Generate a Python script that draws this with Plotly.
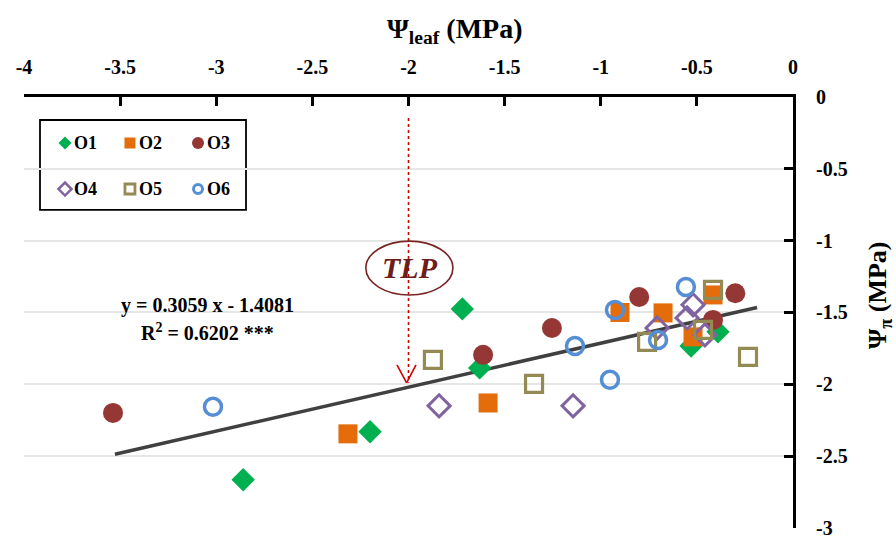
import plotly.graph_objects as go

# Leaf water potential (x) vs osmotic potential (y), MPa, per genotype
o1_x = [-2.86, -2.20, -1.72, -1.63, -0.53, -0.39]
o1_y = [-2.665, -2.33, -1.475, -1.886, -1.733, -1.635]
o2_x = [-2.315, -1.586, -0.90, -0.676, -0.52, -0.416]
o2_y = [-2.345, -2.13, -1.50, -1.503, -1.67, -1.378]
o3_x = [-3.537, -1.612, -1.254, -0.80, -0.416, -0.30]
o3_y = [-2.199, -1.795, -1.608, -1.392, -1.552, -1.366]
o4_x = [-1.841, -1.144, -0.707, -0.52, -0.551, -0.458]
o4_y = [-2.15, -2.15, -1.608, -1.447, -1.538, -1.656]
o5_x = [-1.873, -1.347, -0.759, -0.416, -0.468, -0.234]
o5_y = [-1.83, -1.997, -1.705, -1.343, -1.621, -1.809]
o6_x = [-3.017, -1.134, -0.926, -0.952, -0.702, -0.557]
o6_y = [-2.157, -1.733, -1.482, -1.969, -1.691, -1.322]

# Linear fit y = a x + b over the observed x span
slope = 0.3059
intercept = -1.4081
fit_x = [-3.527, -0.187]
fit_y = [slope * v + intercept for v in fit_x]

tlp_x = -2.0

x_ticks = [-4, -3.5, -3, -2.5, -2, -1.5, -1, -0.5, 0]
x_ticktext = ["-4", "-3.5", "-3", "-2.5", "-2", "-1.5", "-1", "-0.5", "0"]
y_ticks = [0, -0.5, -1, -1.5, -2, -2.5, -3]
y_ticktext = ["0", "-0.5", "-1", "-1.5", "-2", "-2.5", "-3"]

FONT = "Liberation Serif"

fig = go.Figure()

fig.add_trace(go.Scatter(x=fit_x, y=fit_y, mode="lines",
                         line=dict(color="#404040", width=3.5), showlegend=False))

series = [
    ("O1", o1_x, o1_y, "diamond", 18, "#00b050", 0, 10, 0),
    ("O2", o2_x, o2_y, "square", 19, "#e46c0a", 0, 11, 0),
    ("O3", o3_x, o3_y, "circle", 20, "#953735", 0, 12, 0),
    ("O4", o4_x, o4_y, "diamond-open", 17, "#8064a2", 3, 10, 2.5),
    ("O5", o5_x, o5_y, "square-open", 17, "#948a54", 3.2, 10, 2.8),
    ("O6", o6_x, o6_y, "circle-open", 17, "#558ed5", 3.5, 9, 3),
]
for name, xs, ys, sym, size, col, lw, _, _ in series:
    fig.add_trace(go.Scatter(
        x=xs, y=ys, mode="markers", name=name, showlegend=False,
        marker=dict(symbol=sym, size=size, color=col,
                    line=dict(color=col, width=lw)),
    ))

# Legend key: 3 columns x 2 rows, placed in paper units on an overlay axis pair
key_cols = [0.0533, 0.1378, 0.2263]
key_rows = [0.8933, 0.7865]
annotations = []
for i, (name, _, _, sym, _, col, _, ksize, klw) in enumerate(series):
    kx = key_cols[i % 3]
    ky = key_rows[i // 3]
    fig.add_trace(go.Scatter(
        x=[kx], y=[ky], xaxis="x2", yaxis="y2", mode="markers", showlegend=False,
        hoverinfo="skip",
        marker=dict(symbol=sym, size=ksize, color=col, line=dict(color=col, width=klw)),
    ))
    annotations.append(dict(
        x=kx + 0.009, y=ky, xref="paper", yref="paper", xanchor="left", yanchor="middle",
        text=name, showarrow=False,
        font=dict(family=FONT, size=18, color="black", weight="bold"),
    ))

shapes = [
    # TLP marker: dotted drop line with open arrowhead
    dict(type="line", xref="x", yref="y", x0=tlp_x, x1=tlp_x, y0=-0.146, y1=-1.99,
         line=dict(color="#d00000", width=1.6, dash="dot"), layer="above"),
    dict(type="line", xref="x", yref="y", x0=-2.060, x1=tlp_x - 0.01, y0=-1.865, y1=-1.99,
         line=dict(color="#d00000", width=1.6), layer="above"),
    dict(type="line", xref="x", yref="y", x0=-1.961, x1=tlp_x - 0.01, y0=-1.865, y1=-1.99,
         line=dict(color="#d00000", width=1.6), layer="above"),
    dict(type="circle", xref="x", yref="y", x0=-2.222, x1=-1.769, y0=-1.378, y1=-1.003,
         line=dict(color="#7a2424", width=1.6), layer="above"),
    # legend frame
    dict(type="rect", xref="paper", yref="paper", x0=0.0208, x1=0.2887, y0=0.738, y1=0.9466,
         line=dict(color="black", width=1.8), fillcolor="white", layer="between"),
]

annotations += [
    dict(x=-1.99, y=-1.19, xref="x", yref="y", text="<i>TLP</i>", showarrow=False,
         font=dict(family=FONT, size=30, color="#6e1c1c", weight="bold")),
    dict(x=-3.043, y=-1.454, xref="x", yref="y", text="y = 0.3059 x - 1.4081",
         showarrow=False, font=dict(family=FONT, size=20, color="black", weight="bold")),
    dict(x=-3.043, y=-1.635, xref="x", yref="y", text="R<sup>2</sup> = 0.6202 ***",
         showarrow=False, font=dict(family=FONT, size=20, color="black", weight="bold")),
    dict(x=0.5605, y=1.155, xref="paper", yref="paper", xanchor="center", yanchor="middle",
         text="Ψ<sub>leaf</sub> (MPa)", showarrow=False,
         font=dict(family=FONT, size=28, color="black", weight="bold")),
    dict(x=1.112, y=0.541, xref="paper", yref="paper", xanchor="center", yanchor="middle",
         textangle=-90, text="Ψ<sub>π</sub> (MPa)", showarrow=False,
         font=dict(family=FONT, size=26, color="black", weight="bold")),
]

tick_font = dict(family=FONT, size=20, color="black", weight="bold")
fig.update_layout(
    width=896, height=537,
    margin=dict(l=24, r=103, t=97, b=9, autoexpand=False),
    paper_bgcolor="white", plot_bgcolor="white",
    font=dict(family=FONT, color="black"),
    shapes=shapes, annotations=annotations,
    showlegend=False,
    xaxis=dict(side="top", range=[-4, 0], tickvals=x_ticks, ticktext=x_ticktext,
               showgrid=False, zeroline=False, showline=True, linecolor="black", linewidth=3,
               ticks="inside", ticklen=9, tickwidth=2.5, tickcolor="black", automargin=False,
               ticklabelstandoff=12, ticklabeloverflow="allow", tickfont=tick_font),
    yaxis=dict(side="right", range=[-3.0004, 0], tickvals=y_ticks, ticktext=y_ticktext,
               showgrid=True, gridcolor="#e6e6e6", gridwidth=2, zeroline=False,
               showline=True, linecolor="black", linewidth=3, automargin=False,
               ticks="inside", ticklen=9, tickwidth=2.5, tickcolor="black",
               ticklabelstandoff=16, ticklabeloverflow="allow", tickfont=tick_font),
    xaxis2=dict(overlaying="x", range=[0, 1], visible=False, fixedrange=True),
    yaxis2=dict(overlaying="y", range=[0, 1], visible=False, fixedrange=True),
)

fig.write_html("out.html")
